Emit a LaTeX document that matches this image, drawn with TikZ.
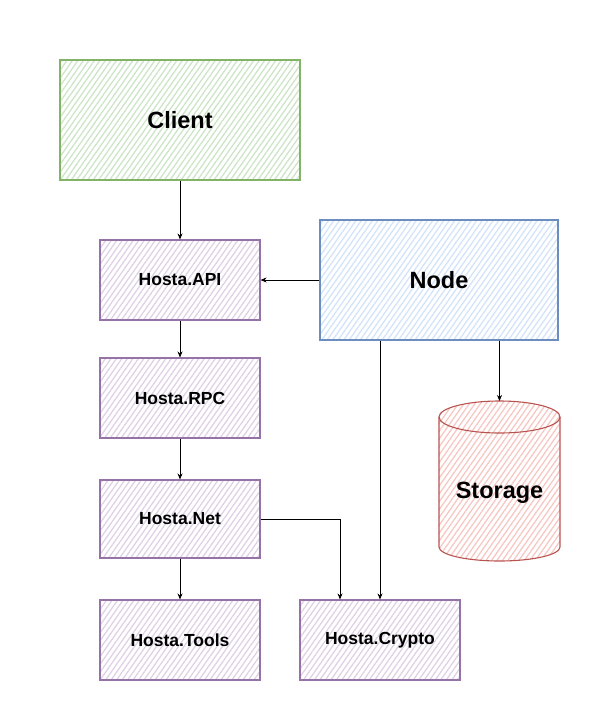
\documentclass[tikz,border=0pt]{standalone}
\usepackage{fontspec}
\setmainfont{Liberation Sans}
\usetikzlibrary{patterns.meta,arrows.meta}

\definecolor{grnline}{HTML}{82B366}
\definecolor{grnfill}{HTML}{CDE4C7}
\definecolor{purline}{HTML}{9673A6}
\definecolor{purfill}{HTML}{DFD1E6}
\definecolor{bluline}{HTML}{6C8EBF}
\definecolor{blufill}{HTML}{D3E3FA}
\definecolor{redline}{HTML}{B85450}
\definecolor{redfill}{HTML}{F7C7C4}

\begin{document}
\begin{tikzpicture}[x=1pt,y=-1pt,
  hatch/.style={pattern={Lines[angle=55,distance=4.5pt,line width=1.3pt]}, pattern color=#1},
  box/.style={draw, line width=1.1pt, inner sep=0pt, align=center, font=\bfseries\fontsize{17.5}{20}\selectfont},
  bigfont/.style={font=\bfseries\fontsize{23.5}{28}\selectfont},
  greenbox/.style={box, bigfont, draw=grnline, hatch=grnfill, minimum width=240pt, minimum height=120pt},
  bluebox/.style={box, bigfont, draw=bluline, hatch=blufill, minimum width=238pt, minimum height=120pt},
  modbox/.style={box, draw=purline, hatch=purfill, minimum width=160pt, minimum height=80pt},
  arr/.style={draw=black, line width=0.8pt, -{Stealth[length=6pt,width=5pt]}}
]
\useasboundingbox (0,0) rectangle (601,721);

% components
\node[greenbox] (client) at (180,120) {Client};
\node[bluebox]  (node)   at (439,280) {Node};
\node[modbox] (api)    at (180,280) {Hosta.API};
\node[modbox] (rpc)    at (180,398) {Hosta.RPC};
\node[modbox, minimum height=78pt] (net) at (180,519) {Hosta.Net};
\node[modbox] (tools)  at (180,640) {Hosta.Tools};
\node[modbox] (crypto) at (380,640) {Hosta.Crypto};

% storage cylinder
\fill[hatch=redfill] (439,417) -- (439,547) arc (180:0:60.5 and 14) -- (560,417) arc (0:-180:60.5 and 16) -- cycle;
\draw[redline, line width=1.1pt] (439,417) -- (439,547) arc (180:0:60.5 and 14) -- (560,417);
\draw[redline, line width=1.1pt] (499.5,417) ellipse (60.5 and 16);
\coordinate (stortop) at (499.5,401);
\node[bigfont] (storage) at (499.5,493) {Storage};

% connectors
\draw[arr] (client) -- (api);
\draw[arr] (node.west) -- (api.east);
\draw[arr] (api) -- (rpc);
\draw[arr] (rpc) -- (net);
\draw[arr] (net) -- (tools);
\draw[arr] (net.east) -| ([xshift=-40pt]crypto.north);
\draw[arr] (node.south -| crypto.north) -- (crypto.north);
\draw[arr] (node.south -| stortop) -- (stortop);
\end{tikzpicture}
\end{document}
